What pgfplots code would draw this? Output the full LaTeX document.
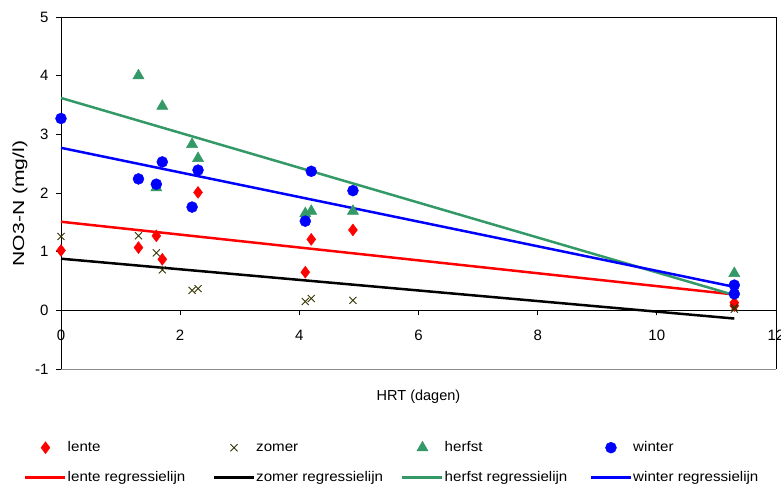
\documentclass[border=0pt]{standalone}
\usepackage{fontspec}
\setmainfont{Liberation Sans}
\newfontfamily\ylabfont{Liberation Sans}[FakeStretch=1.32]
\newfontfamily\legfont{Liberation Sans}[FakeStretch=1.08]
\usepackage{pgfplots}
\pgfplotsset{compat=1.18}
\usetikzlibrary{calc}
\definecolor{herfstgreen}{HTML}{339966}
\definecolor{zomerolive}{HTML}{333300}

\pgfplotsset{
    lente-marks/.style={only marks, mark=diamond*, mark size=6pt, color=red, mark options={solid, fill=red, draw=red}},
    zomer-marks/.style={only marks, mark=x, mark size=5pt, color=zomerolive, mark options={solid, line width=0.9pt}},
    herfst-marks/.style={only marks, mark=triangle*, mark size=6.5pt, color=herfstgreen, mark options={solid, fill=herfstgreen, draw=herfstgreen}},
    winter-marks/.style={only marks, mark=*, mark size=5.5pt, color=blue, mark options={solid, fill=blue, draw=blue}},
    RegLine/.style={no marks, line width=2.5pt},
}

\begin{document}
\begin{tikzpicture}
\begin{axis}[
    scale only axis,
    width=715pt, height=352pt,
    xmin=0, xmax=12, ymin=-1, ymax=5,
    xtick={0,2,...,12}, ytick={-1,0,...,5},
    axis x line=middle, axis y line=left,
    axis line style={-, line width=0.8pt, black},
    hide obscured x ticks=false, hide obscured y ticks=false,
    tick align=outside, major tick length=5pt,
    tick style={line width=0.8pt, black},
    tick label style={font=\fontsize{15}{18}\selectfont},
    /pgf/number format/assume math mode=true,
    xticklabel style={yshift=-11pt},
    yticklabel style={xshift=-4pt},
    clip=false,
    xlabel={HRT (dagen)},
    xlabel style={at={(axis description cs:0.5,-0.0795)}, anchor=center, font=\fontsize{14.5}{17}\selectfont},
    ylabel={NO3-N (mg/l)},
    ylabel style={at={(axis description cs:-0.0573,0.47)}, anchor=center, font=\ylabfont\fontsize{16}{18}\selectfont},
    legend columns=4,
    legend image code/.code={\path[draw=none, fill=none] (0pt,-5pt) rectangle (40pt,5pt);
        \draw[mark repeat=2, mark phase=2, #1] plot coordinates {(0pt,0pt) (20pt,0pt) (40pt,0pt)};},
    legend style={at={(axis description cs:-0.0517,-0.2017)}, anchor=north west,
        draw=none, fill=none, inner sep=0pt, row sep=15pt,
        font=\legfont\fontsize{14}{16}\selectfont,
        nodes={inner sep=1pt, text height=10pt, text depth=3pt},
        cells={anchor=west}},
]
% legend entries first, the plots come below
\addlegendimage{lente-marks}\addlegendentry{\makebox[144pt][l]{lente}}
\addlegendimage{zomer-marks}\addlegendentry{\makebox[144pt][l]{zomer}}
\addlegendimage{herfst-marks}\addlegendentry{\makebox[144pt][l]{herfst}}
\addlegendimage{winter-marks}\addlegendentry{\makebox[144pt][l]{winter}}
\addlegendimage{RegLine, red}\addlegendentry{\makebox[144pt][l]{lente regressielijn}}
\addlegendimage{RegLine, black}\addlegendentry{\makebox[144pt][l]{zomer regressielijn}}
\addlegendimage{RegLine, herfstgreen}\addlegendentry{\makebox[144pt][l]{herfst regressielijn}}
\addlegendimage{RegLine, blue}\addlegendentry{\makebox[144pt][l]{winter regressielijn}}

% regression lines
\addplot[RegLine, red, forget plot] coordinates {(0,1.51) (11.3,0.27)};
\addplot[RegLine, black, forget plot] coordinates {(0,0.88) (11.3,-0.14)};
\addplot[RegLine, herfstgreen, forget plot] coordinates {(0,3.62) (11.3,0.26)};
\addplot[RegLine, blue, forget plot] coordinates {(0,2.77) (11.3,0.40)};

% measurements
\addplot[lente-marks, forget plot] coordinates {
    (0,1.02) (1.3,1.07) (1.6,1.27) (1.7,0.87) (2.3,2.01)
    (4.1,0.65) (4.2,1.21) (4.9,1.37) (11.3,0.13) (11.3,0.08)};
\addplot[zomer-marks, forget plot] coordinates {
    (0,1.26) (1.3,1.27) (1.6,0.98) (1.7,0.69) (2.2,0.34) (2.3,0.37)
    (4.1,0.15) (4.2,0.2) (4.9,0.17) (11.3,0.05) (11.3,0.02)};
\addplot[herfst-marks, forget plot] coordinates {
    (1.3,4.0) (1.7,3.48) (1.6,2.09) (2.2,2.83) (2.3,2.59)
    (4.1,1.65) (4.2,1.69) (4.9,1.69) (11.3,0.63)};
\addplot[winter-marks, forget plot] coordinates {
    (0,3.27) (1.3,2.24) (1.6,2.15) (1.7,2.53) (2.2,1.76) (2.3,2.39)
    (4.1,1.52) (4.2,2.37) (4.9,2.04) (11.3,0.43) (11.3,0.28)};

% frame round the plot area
\draw[black, line width=0.8pt] (rel axis cs:0,1) -- (rel axis cs:1,1) -- (rel axis cs:1,0);
\draw[black!45, line width=0.8pt] (rel axis cs:0,0) -- (rel axis cs:1,0);
\coordinate (ll) at (rel axis cs:0,0);
\coordinate (ur) at (rel axis cs:1,1);
\end{axis}
\pgfresetboundingbox
\path ($(ll)+(-61pt,-116pt)$) rectangle ($(ur)+(5pt,17pt)$);
\end{tikzpicture}
\end{document}
